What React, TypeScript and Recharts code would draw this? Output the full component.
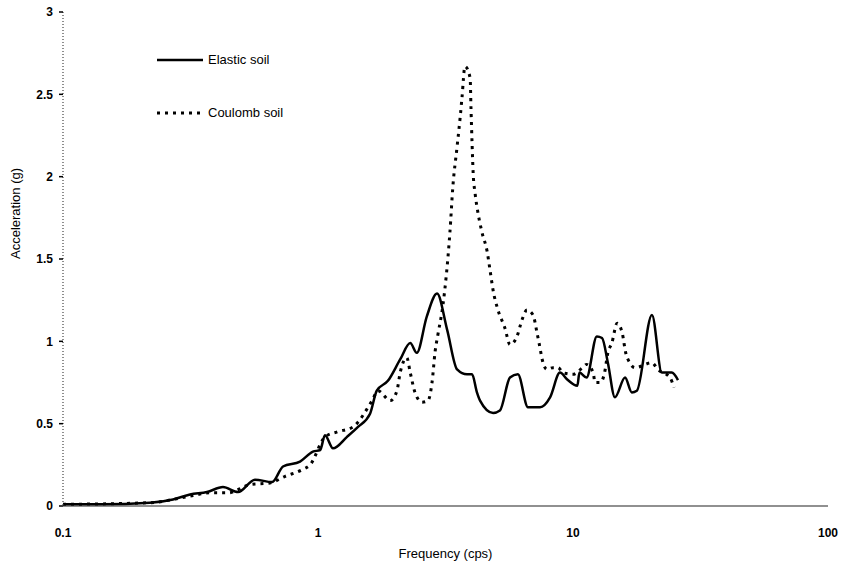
import React from "react";
import { Line, LineChart, XAxis, YAxis } from "recharts";

const FONT = "'Liberation Sans', Arial, sans-serif";

const xTicks = [0.1, 1, 10, 100];
const yTicks = [0, 0.5, 1, 1.5, 2, 2.5, 3];

// Elastic soil (solid)
const elasticFreq = [
  0.1, 0.14, 0.219, 0.27, 0.315, 0.367, 0.424, 0.486, 0.566, 0.661, 0.729, 0.85,
  0.955, 1.02, 1.065, 1.145, 1.3, 1.435, 1.6, 1.7, 1.88, 2.1, 2.3, 2.44, 2.67,
  2.93, 3.21, 3.51, 3.84, 4.02, 4.2, 4.32, 4.86, 5.17, 5.66, 6.08, 6.66, 7.43,
  8.13, 8.89, 9.47, 10.4, 10.6, 11.3, 12.4, 13.0, 13.7, 14.6, 16.0, 17.0, 17.8,
  20.4, 22.3, 24.4, 25.8,
];
const elasticAccel = [
  0.01, 0.01, 0.02, 0.04, 0.07, 0.085, 0.115, 0.085, 0.16, 0.145, 0.24, 0.27,
  0.33, 0.34, 0.43, 0.35, 0.42, 0.48, 0.56, 0.7, 0.76, 0.89, 0.99, 0.93, 1.15,
  1.29, 1.07, 0.83, 0.8, 0.8, 0.69, 0.64, 0.565, 0.58, 0.78, 0.8, 0.6, 0.6,
  0.66, 0.81, 0.77, 0.73, 0.81, 0.78, 1.03, 1.02, 0.87, 0.66, 0.78, 0.69, 0.7,
  1.16, 0.81, 0.81, 0.765,
];

// Coulomb soil (dotted)
const coulombFreq = [
  0.1, 0.219, 0.315, 0.377, 0.444, 0.541, 0.648, 0.743, 0.865, 0.931, 1.065,
  1.19, 1.37, 1.63, 1.72, 1.92, 2.04, 2.1, 2.23, 2.3, 2.4, 2.56, 2.7, 2.8, 2.88,
  2.96, 3.09, 3.29, 3.38, 3.51, 3.61, 3.67, 3.77, 3.95, 3.98, 4.02, 4.06, 4.13,
  4.24, 4.4, 4.6, 4.73, 4.86, 5.08, 5.41, 5.66, 6.03, 6.31, 6.6, 6.97, 7.23,
  7.36, 7.63, 7.91, 8.35, 8.74, 9.14, 10.0, 10.9, 11.3, 12.0, 12.2, 12.8, 13.3,
  13.7, 14.2, 14.9, 15.6, 16.1, 16.7, 17.5, 20.4, 21.5, 24.0, 24.9,
];
const coulombAccel = [
  0.01, 0.02, 0.06, 0.08, 0.08, 0.13, 0.14, 0.18, 0.22, 0.25, 0.42, 0.45, 0.48,
  0.64, 0.7, 0.64, 0.7, 0.81, 0.9, 0.81, 0.69, 0.63, 0.64, 0.75, 0.94, 1.05,
  1.22, 1.66, 1.94, 2.18, 2.36, 2.48, 2.67, 2.6, 2.42, 2.2, 2.02, 1.9, 1.78,
  1.66, 1.55, 1.43, 1.31, 1.19, 1.08, 0.98, 1.03, 1.13, 1.19, 1.16, 1.05, 0.99,
  0.87, 0.83, 0.84, 0.84, 0.81, 0.8, 0.84, 0.86, 0.81, 0.75, 0.75, 0.81, 0.93,
  0.99, 1.11, 1.05, 0.93, 0.87, 0.84, 0.87, 0.83, 0.78, 0.72,
];

const elastic = elasticFreq.map((f, i) => ({ f, a: elasticAccel[i] }));
const coulomb = coulombFreq.map((f, i) => ({ f, a: coulombAccel[i] }));

const fmtX = (v: number) => String(v);
const fmtY = (v: number) => String(v);

function LegendItem({ label, dash, top }: { label: string; dash?: string; top: number }) {
  return (
    <div style={{ position: "absolute", left: 157, top, display: "flex", alignItems: "center" }}>
      <svg width={48} height={10}>
        <line x1={0} y1={5} x2={46} y2={5} stroke="#000" strokeWidth={dash ? 3 : 2.5} strokeDasharray={dash} />
      </svg>
      <span style={{ fontFamily: FONT, fontSize: 13, color: "#000", marginLeft: 3 }}>{label}</span>
    </div>
  );
}

export default function App() {
  return (
    <div style={{ position: "absolute", left: 0, top: 0, width: 844, height: 563 }}>
      <LineChart width={844} height={563} margin={{ top: 12, right: 16, bottom: 27, left: 23 }}>
        <XAxis
          type="number"
          dataKey="f"
          scale="log"
          domain={[0.1, 100]}
          ticks={xTicks}
          tickFormatter={fmtX}
          allowDataOverflow
          height={30}
          tickLine={false}
          axisLine={{ stroke: "#222", strokeWidth: 1.2 }}
          tick={{ fill: "#000", fontSize: 12, fontFamily: FONT, fontWeight: 600 }}
          tickMargin={16}
          label={{ value: "Frequency (cps)", position: "insideBottom", offset: -22, fill: "#000", fontSize: 13, fontFamily: FONT }}
        />
        <YAxis
          type="number"
          dataKey="a"
          domain={[0, 3]}
          ticks={yTicks}
          tickFormatter={fmtY}
          width={40}
          tickSize={4}
          axisLine={{ stroke: "#444", strokeWidth: 1.2, strokeDasharray: "1 2" }}
          tickLine={{ stroke: "#000", strokeWidth: 1.5 }}
          tick={{ fill: "#000", fontSize: 12, fontFamily: FONT, fontWeight: 600 }}
          tickMargin={6}
          label={{ value: "Acceleration (g)", angle: -90, position: "insideLeft", offset: -8, fill: "#000", fontSize: 13, fontFamily: FONT }}
        />
        <Line
          data={coulomb}
          dataKey="a"
          type="monotone"
          stroke="#000"
          strokeWidth={3}
          strokeDasharray="3 5"
          dot={false}
          activeDot={false}
          isAnimationActive={false}
        />
        <Line
          data={elastic}
          dataKey="a"
          type="monotone"
          stroke="#000"
          strokeWidth={2.5}
          dot={false}
          activeDot={false}
          isAnimationActive={false}
        />
      </LineChart>
      <LegendItem label="Elastic soil" top={52} />
      <LegendItem label="Coulomb soil" dash="3 5" top={105} />
    </div>
  );
}
